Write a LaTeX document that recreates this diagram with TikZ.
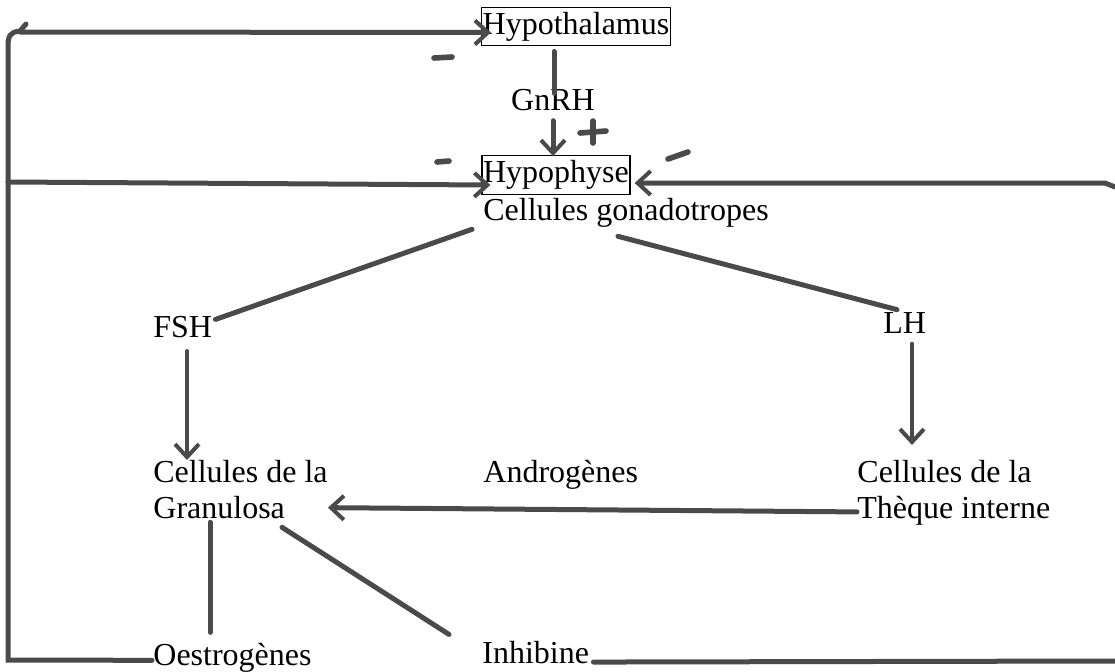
\documentclass[tikz,border=0pt]{standalone}
\usepackage{fontspec}
\setmainfont{Liberation Serif}
\usetikzlibrary{arrows.meta,calc}
\definecolor{ink}{HTML}{4A4A4A}
\begin{document}
\begin{tikzpicture}[x=0.5pt,y=-0.5pt,
  lbl/.style={inner sep=0pt,font=\fontsize{16}{18}\selectfont},
  boxed/.style={lbl,draw=black,line width=0.6pt,inner xsep=0.6pt,inner ysep=2.4pt},
  thk/.style={draw=ink,line width=2.5pt,line cap=round},
  thn/.style={draw=ink,line width=1.6pt,line cap=round},
  tip/.style={-{Straight Barb[length=6.5pt,width=12pt,line width=2pt]}},
  sign/.style={draw=ink,line width=2.8pt,line cap=round}]
\useasboundingbox (0,0) rectangle (1115,671);
% nodes
\node[boxed] (hyt) at (576,26.5) {Hypothalamus};
\node[lbl,anchor=base] (gnrh) at (553,110) {GnRH};
\node[boxed] (hyp) at (556,175) {Hypophyse};
\node[lbl,anchor=base west] (cg) at (483,220) {Cellules gonadotropes};
\node[lbl,anchor=base west] (fsh) at (153,337) {FSH};
\node[lbl,anchor=base west] (lh) at (883,333) {LH};
\node[lbl,anchor=north west,align=left] (gran) at (153,460) {Cellules de la\\Granulosa};
\node[lbl,anchor=base west] (andro) at (483,482) {Androgènes};
\node[lbl,anchor=north west,align=left] (theq) at (857,460) {Cellules de la\\Thèque interne};
\node[lbl,anchor=base west] (oes) at (153,665) {Oestrogènes};
\node[lbl,anchor=base west] (inh) at (482,663) {Inhibine};
% loop coordinates
\coordinate (lb) at (8,660);
\coordinate (lm) at (8,182);
\coordinate (lt) at (8,46);
\coordinate (rt) at (1115,187);
\coordinate (rb) at (1115,661);
% left feedback loop (oestrogenes)
\draw[thk] ([shift={(-1,3)}]oes.west) -- (lb) -- (lt) .. controls (8,36) and (10,32) .. (20,31) -- (26,24);
\draw[thk,tip] (20,32) -- ([shift={(10,6)}]hyt.west);
\draw[thk,tip] (lm) -- ([shift={(9,10)}]hyp.west);
% right feedback loop (inhibine)
\draw[thk] ([shift={(4,10)}]inh.east) -- (rb);
\draw[thk,tip] (rt) -- (1105,183) -- ([shift={(4,8)}]hyp.east);
% axis
\draw[thk] ([shift={(-22,5)}]hyt.south) -- ([shift={(1,5)}]gnrh.north);
\draw[thk,tip] ([shift={(0,10)}]gnrh.south) -- ($(gnrh.south |- hyp.north)+(0,1)$);
\draw[thk] ([shift={(-11,2)}]cg.south west) -- ([shift={(3,4)}]fsh.north east);
\draw[thk] ([shift={(135,9)}]cg.south west) -- ([shift={(14,-2)}]lh.north west);
\draw[thn,tip] ([shift={(34,13)}]fsh.south west) -- ([shift={(34,0)}]gran.north west);
\draw[thn,tip] ([shift={(29,10)}]lh.south west) -- ([shift={(55,-15)}]theq.north west);
\draw[thk,tip] ([shift={(0,19)}]theq.west) -- ([shift={(0,18)}]gran.east);
\draw[thk] ([shift={(57,3)}]gran.south west) -- ([shift={(57,-10)}]oes.north west);
\draw[thk] ([shift={(129,8)}]gran.south west) -- ([shift={(-33,-6)}]inh.north west);
% signs
\draw[sign] (434,58) -- (452,57);
\draw[sign] (437,162) -- (449,161);
\draw[sign] (593,121) -- (593,143);
\draw[sign] (580,133) -- (606,131);
\draw[sign] (668,159) -- (688,152);
\end{tikzpicture}
\end{document}
